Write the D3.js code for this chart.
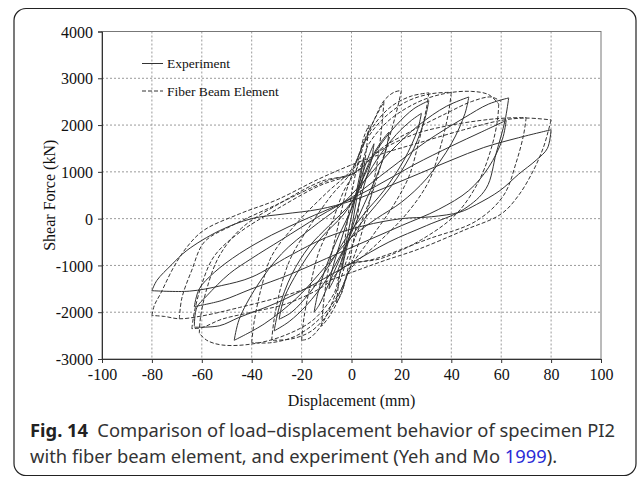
<!DOCTYPE html>
<html>
<head>
<meta charset="utf-8">
<script src="https://cdnjs.cloudflare.com/ajax/libs/d3/7.8.5/d3.min.js"></script>
<style>
  body { margin: 0; background: #fff; }
  svg { display: block; }
</style>
</head>
<body>
<div id="chart"></div>
<script>
var svgWidth = 637;
var svgHeight = 478;

var margin = { top: 31.5, right: 36, bottom: 119, left: 102 };
var width = svgWidth - margin.left - margin.right;
var height = svgHeight - margin.top - margin.bottom;

var xTicks = [-100, -80, -60, -40, -20, 0, 20, 40, 60, 80, 100];
var yTicks = [-3000, -2000, -1000, 0, 1000, 2000, 3000, 4000];

var legendLabels = ["Experiment", "Fiber Beam Element"];

// experiment, one branch per half cycle [mm, kN]
var expBranches = [
  [[-4,-1100],[-3,-800],[-1,-200],[1,300],[3,850],[5,1300]],
  [[5,1300],[4,1000],[2,400],[0,-200],[-2,-650],[-4,-1100]],
  [[-9,-1500],[-8,-1150],[-5,-600],[-2,-100],[1,400],[4,900],[7,1350],[9,1600]],
  [[9,1600],[8,1250],[5,700],[2,100],[-1,-400],[-4,-900],[-7,-1300],[-9,-1500]],
  [[-15,-2000],[-13.5,-1600],[-10,-1000],[-5,-350],[0,200],[4,800],[8,1300],[12,1650],[15,1850]],
  [[15,1850],[14,1500],[10,900],[5,300],[0,-300],[-5,-900],[-10,-1500],[-13,-1850],[-15,-2000]],
  [[-31,-2400],[-29,-1900],[-24,-1200],[-17,-600],[-9,-150],[0,350],[5,900],[10,1450],[18,2000],[25,2350],[31,2520]],
  [[31,2520],[29.5,2150],[25,1500],[18,850],[10,300],[3,-150],[-3,-650],[-10,-1300],[-18,-1850],[-25,-2200],[-31,-2400]],
  [[-29,-2150],[-27,-1700],[-20,-1000],[-12,-400],[-3,100],[4,700],[10,1250],[18,1800],[24,2100],[28,2250]],
  [[28,2250],[26.5,1900],[21,1250],[13,600],[5,100],[-2,-400],[-9,-1000],[-17,-1600],[-24,-2000],[-29,-2150]],
  [[-47,-2600],[-45,-2150],[-38,-1450],[-28,-750],[-16,-200],[-5,250],[5,800],[15,1400],[27,2000],[38,2400],[47,2600]],
  [[47,2600],[45.5,2250],[40,1600],[30,850],[20,350],[10,0],[0,-400],[-10,-1000],[-22,-1700],[-35,-2250],[-47,-2600]],
  [[-63,-2300],[-62,-1900],[-58,-1650],[-49,-1180],[-40,-850],[-28,-450],[-13,50],[0,450],[15,1050],[30,1650],[45,2150],[55,2450],[63,2580]],
  [[63,2580],[61.5,2090],[58,1400],[54,650],[45,200],[30,-150],[15,-500],[0,-950],[-15,-1400],[-30,-1800],[-45,-2110],[-53,-2290],[-63,-2320]],
  [[-63,-1880],[-61,-1500],[-55,-1150],[-45,-750],[-32,-350],[-18,0],[-5,300],[10,700],[25,1150],[40,1550],[52,1850],[62,2100]],
  [[62,2100],[60.5,1700],[55,1100],[47,600],[35,200],[20,-150],[5,-500],[-10,-850],[-25,-1200],[-40,-1500],[-52,-1750],[-63,-1880]],
  [[-80,-1540],[-78,-1320],[-72,-980],[-66,-680],[-53,-260],[-40,0],[-27,100],[-13,200],[0,380],[13,650],[27,960],[40,1250],[53,1520],[67,1730],[80,1900]],
  [[80,1900],[78.5,1500],[74,1250],[67,950],[59.5,600],[50,300],[43.5,140],[32,40],[20,0],[5,-150],[-10,-400],[-25,-800],[-40,-1250],[-52,-1430],[-65,-1550],[-80,-1540]]
];

// fiber beam element model, one branch per half cycle [mm, kN]
var fiberBranches = [
  [[-6,-1800],[-5,-1300],[-3,-600],[-1,200],[1,800],[3,1300],[5,1750],[7,2000]],
  [[7,2000],[6,1500],[4,700],[2,-100],[0,-700],[-2,-1200],[-4,-1600],[-6,-1800]],
  [[-12,-2300],[-11,-1700],[-9,-1000],[-6,-300],[-2,600],[1,1050],[5,1650],[9,2100],[13,2500]],
  [[13,2500],[12,1900],[10,1100],[7,300],[3,-500],[-1,-1100],[-5,-1700],[-9,-2100],[-12,-2300]],
  [[-20,-2600],[-19,-2100],[-16,-1300],[-13,-700],[-8,-100],[-3,600],[2,1050],[5,1600],[9,2100],[13,2520],[17,2700],[20,2740]],
  [[20,2740],[18.5,2380],[15,1700],[11.5,1100],[8,500],[3,-200],[-2,-900],[-5,-1400],[-9,-1950],[-13,-2350],[-17,-2560],[-20,-2600]],
  [[-32,-2600],[-31,-2150],[-28,-1400],[-24,-800],[-16,-100],[-8,500],[0,1000],[4,1500],[9,2000],[16,2400],[24,2620],[31,2690]],
  [[31,2690],[30,2350],[27,1650],[23,900],[17,300],[8,-400],[0,-1000],[-4,-1500],[-9,-2000],[-16,-2400],[-24,-2570],[-32,-2600]],
  [[-40,-2650],[-39,-2200],[-36,-1450],[-32,-800],[-22,-100],[-10,550],[0,1050],[5,1600],[12,2100],[22,2500],[32,2670],[40,2700]],
  [[40,2700],[39,2300],[36,1600],[31,800],[22,100],[10,-550],[0,-1050],[-5,-1600],[-12,-2100],[-22,-2500],[-32,-2650],[-40,-2650]],
  [[-61,-2450],[-60.5,-2100],[-58,-1500],[-53,-800],[-44,-200],[-28,350],[-12,800],[2,1000],[7,1600],[15,2100],[27,2500],[38,2680],[48,2720],[55,2650],[59,2450]],
  [[59,2450],[58.5,2100],[56,1500],[51,800],[42,100],[28,-450],[12,-850],[-3,-1030],[-7,-1600],[-15,-2150],[-27,-2500],[-40,-2680],[-52,-2700],[-58,-2600],[-61,-2450]],
  [[-69,-2140],[-68,-1700],[-64,-1100],[-59,-500],[-48,-150],[-30,300],[-10,800],[2,1000],[10,1400],[25,1800],[40,2000],[55,2120],[62,2150],[70,2160]],
  [[70,2160],[69,1800],[66,1200],[61,500],[50,-50],[30,-450],[10,-850],[-3,-1030],[-10,-1400],[-25,-1800],[-40,-2000],[-52,-2150],[-60,-2330],[-64,-2350]],
  [[-64,-2350],[-63,-2000],[-60,-1400],[-55,-800],[-45,-300],[-30,200],[-13,700],[2,1000],[12,1500],[25,1900],[38,2250],[48,2500],[56,2600],[60,2500]],
  [[-80,-2070],[-79,-1850],[-76.6,-1610],[-71.3,-1040],[-66,-610],[-59.4,-256],[-45,100],[-30,400],[-13,850],[0,1150],[13,1400],[27,1620],[45,1900],[60,2100],[70,2150],[80,2110]],
  [[80,2110],[78.9,1880],[76.9,1520],[72.9,1030],[67,500],[60,100],[45,-250],[27,-650],[13,-900],[0,-1150],[-13,-1400],[-27,-1650],[-45,-1900],[-60,-2080],[-69,-2140],[-75,-2090],[-80,-2070]]
];

var serif = "Liberation Serif, Times New Roman, serif";
var sans = "Noto Sans, Open Sans, sans-serif";

var svg = d3
  .select("#chart")
  .append("svg")
  .attr("width", svgWidth)
  .attr("height", svgHeight);

svg.append("rect")
  .attr("x", 14)
  .attr("y", 8.5)
  .attr("width", 622)
  .attr("height", 467)
  .attr("rx", 12)
  .attr("fill", "none")
  .attr("stroke", "#222")
  .attr("stroke-width", 1.2);

var chartGroup = svg.append("g")
  .attr("transform", `translate(${margin.left}, ${margin.top})`);

var xLinearScale = d3.scaleLinear().domain([-100, 100]).range([0, width]);
var yLinearScale = d3.scaleLinear().domain([-3000, 4000]).range([height, 0]);

// grid
chartGroup.selectAll(".vgrid")
  .data(xTicks.slice(1, -1))
  .enter()
  .append("line")
  .attr("x1", d => xLinearScale(d))
  .attr("x2", d => xLinearScale(d))
  .attr("y1", 0)
  .attr("y2", height)
  .attr("stroke", "#9a9a9a")
  .attr("stroke-dasharray", "2,2");

chartGroup.selectAll(".hgrid")
  .data(yTicks.slice(1, -1))
  .enter()
  .append("line")
  .attr("x1", 0)
  .attr("x2", width)
  .attr("y1", d => yLinearScale(d))
  .attr("y2", d => yLinearScale(d))
  .attr("stroke", "#9a9a9a")
  .attr("stroke-dasharray", "2,2");

chartGroup.append("rect")
  .attr("width", width)
  .attr("height", height)
  .attr("fill", "none")
  .attr("stroke", "#777")
  .attr("stroke-width", 1);

var line = d3.line()
  .x(d => xLinearScale(d[0]))
  .y(d => yLinearScale(d[1]))
  .curve(d3.curveCatmullRom.alpha(0.5));

chartGroup.selectAll(".exp")
  .data(expBranches)
  .enter()
  .append("path")
  .attr("d", line)
  .attr("fill", "none")
  .attr("stroke", "#333")
  .attr("stroke-width", 1);

chartGroup.selectAll(".fiber")
  .data(fiberBranches)
  .enter()
  .append("path")
  .attr("d", line)
  .attr("fill", "none")
  .attr("stroke", "#333")
  .attr("stroke-width", 1)
  .attr("stroke-dasharray", "4,2");

var bottomAxis = d3.axisBottom(xLinearScale)
  .tickValues(xTicks)
  .tickFormat(d => String(d))
  .tickSize(4)
  .tickPadding(6);
var leftAxis = d3.axisLeft(yLinearScale)
  .tickValues(yTicks)
  .tickFormat(d => String(d))
  .tickSize(4)
  .tickPadding(5);

var xAxis = chartGroup.append("g")
  .attr("transform", `translate(0, ${height})`)
  .call(bottomAxis)
  .attr("font-family", serif)
  .attr("font-size", 16);

var yAxis = chartGroup.append("g")
  .call(leftAxis)
  .attr("font-family", serif)
  .attr("font-size", 16);

[xAxis, yAxis].forEach(function(ax) {
  ax.select(".domain").attr("stroke", "#333");
  ax.selectAll(".tick line").attr("stroke", "#333");
  ax.selectAll(".tick text").attr("fill", "#111");
});
yAxis.selectAll(".tick text").attr("dy", "0.35em");

// legend
var legend = chartGroup.append("g");
legend.append("line")
  .attr("x1", 40).attr("x2", 61).attr("y1", 32).attr("y2", 32)
  .attr("stroke", "#333");
legend.append("line")
  .attr("x1", 40).attr("x2", 61).attr("y1", 59.5).attr("y2", 59.5)
  .attr("stroke", "#333")
  .attr("stroke-dasharray", "4,2");
legend.selectAll("text")
  .data(legendLabels)
  .enter()
  .append("text")
  .attr("x", 65)
  .attr("y", (d, i) => 36.5 + i * 27.5)
  .attr("font-family", serif)
  .attr("font-size", "13.5px")
  .attr("fill", "#111")
  .text(d => d);

svg.append("text")
  .attr("x", margin.left + width / 2)
  .attr("y", 406)
  .attr("text-anchor", "middle")
  .attr("font-family", serif)
  .attr("font-size", "16px")
  .attr("fill", "#111")
  .text("Displacement (mm)");

svg.append("text")
  .attr("transform", "rotate(-90)")
  .attr("x", -(margin.top + height / 2))
  .attr("y", 55)
  .attr("text-anchor", "middle")
  .attr("font-family", serif)
  .attr("font-size", "16px")
  .attr("fill", "#111")
  .text("Shear Force (kN)");

// caption
var cap1 = svg.append("text")
  .attr("x", 30)
  .attr("y", 437)
  .attr("font-family", sans)
  .attr("font-size", "16.5px")
  .attr("fill", "#333");
cap1.append("tspan").attr("font-weight", "bold").attr("fill", "#222").text("Fig. 14");
cap1.append("tspan").text("\u2002Comparison of load\u2013displacement behavior of specimen PI2");

var cap2 = svg.append("text")
  .attr("x", 30)
  .attr("y", 463)
  .attr("font-family", sans)
  .attr("font-size", "16.5px")
  .attr("fill", "#333");
cap2.append("tspan").text("with fiber beam element, and experiment (Yeh and Mo ");
cap2.append("tspan").attr("fill", "#2b2bd6").text("1999");
cap2.append("tspan").text(").");

// fit caption line 1 to the reference width, same size for both lines
var w1 = cap1.node().getComputedTextLength();
var capSize = (16.5 * 585 / w1).toFixed(2) + "px";
cap1.attr("font-size", capSize);
cap2.attr("font-size", capSize);
</script>
</body>
</html>
